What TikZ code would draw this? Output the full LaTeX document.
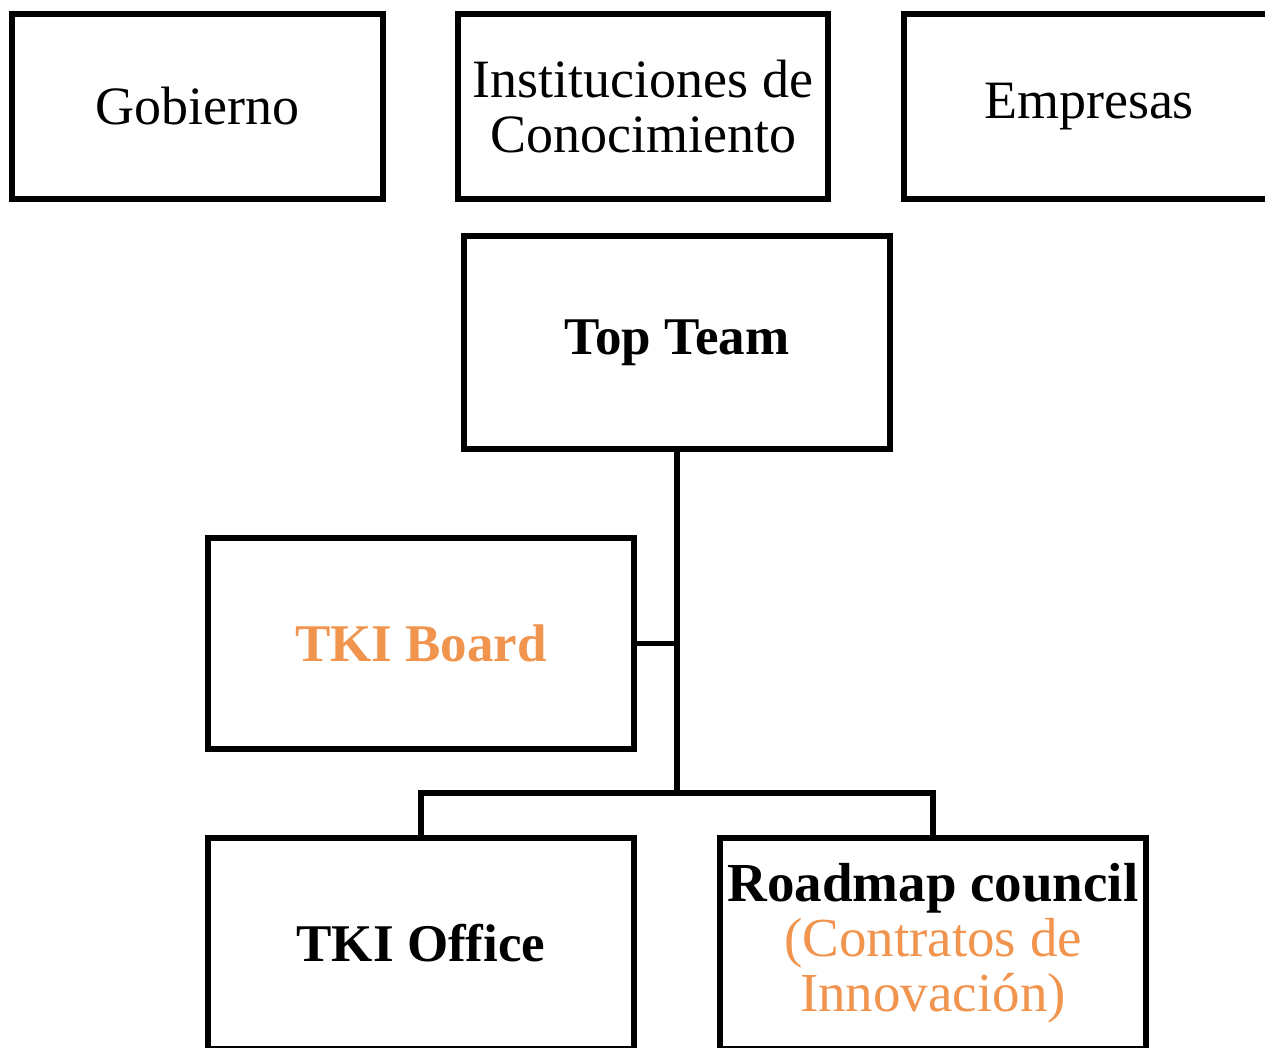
\documentclass[tikz,border=0pt]{standalone}
\usepackage{fontspec}
\setmainfont{Liberation Serif}
\definecolor{tkiorange}{RGB}{240,148,78}
\begin{document}
\begin{tikzpicture}[x=1pt,y=-1pt,
  box/.style={draw=black, line width=5.5pt, fill=white, inner sep=0pt, align=center,
    font=\fontsize{54}{55}\selectfont},
  bbox/.style={box, font=\fontsize{53}{55}\selectfont\bfseries},
  link/.style={draw=black, line width=5.5pt}]
\useasboundingbox (0,0) rectangle (1265,1047);
\clip (0,0) rectangle (1265,1047);
\node[box, minimum width=371pt, minimum height=185pt] (gob) at (197.5,106.5) {Gobierno};
\node[box, minimum width=370pt, minimum height=185pt] (inst) at (643,106.5) {Instituciones de\\Conocimiento};
\node[box, minimum width=370pt, minimum height=185pt] (emp) at (1089,106.5) {Empresas};
\node[bbox, minimum width=426pt, minimum height=213pt] (top) at (677,342.5) {Top Team};
\node[bbox, minimum width=426pt, minimum height=211pt, text=tkiorange] (board) at (421,643.5) {TKI Board};
\node[bbox, minimum width=426pt, minimum height=211pt] (office) at (421,943.5) {TKI Office};
\node[box, minimum width=426pt, minimum height=211pt, font=\fontsize{55}{55}\selectfont] (road) at (933,943.5) {\textbf{Roadmap council}\\\textcolor{tkiorange}{(Contratos de}\\\textcolor{tkiorange}{Innovación)}};
\coordinate (j) at (677,793);
\draw[link] (top.south) -- (j);
\draw[link] (board.east) -- (board.east -| top.south);
\draw[link] (office.north) |- (j) -| (road.north);
\end{tikzpicture}
\end{document}
